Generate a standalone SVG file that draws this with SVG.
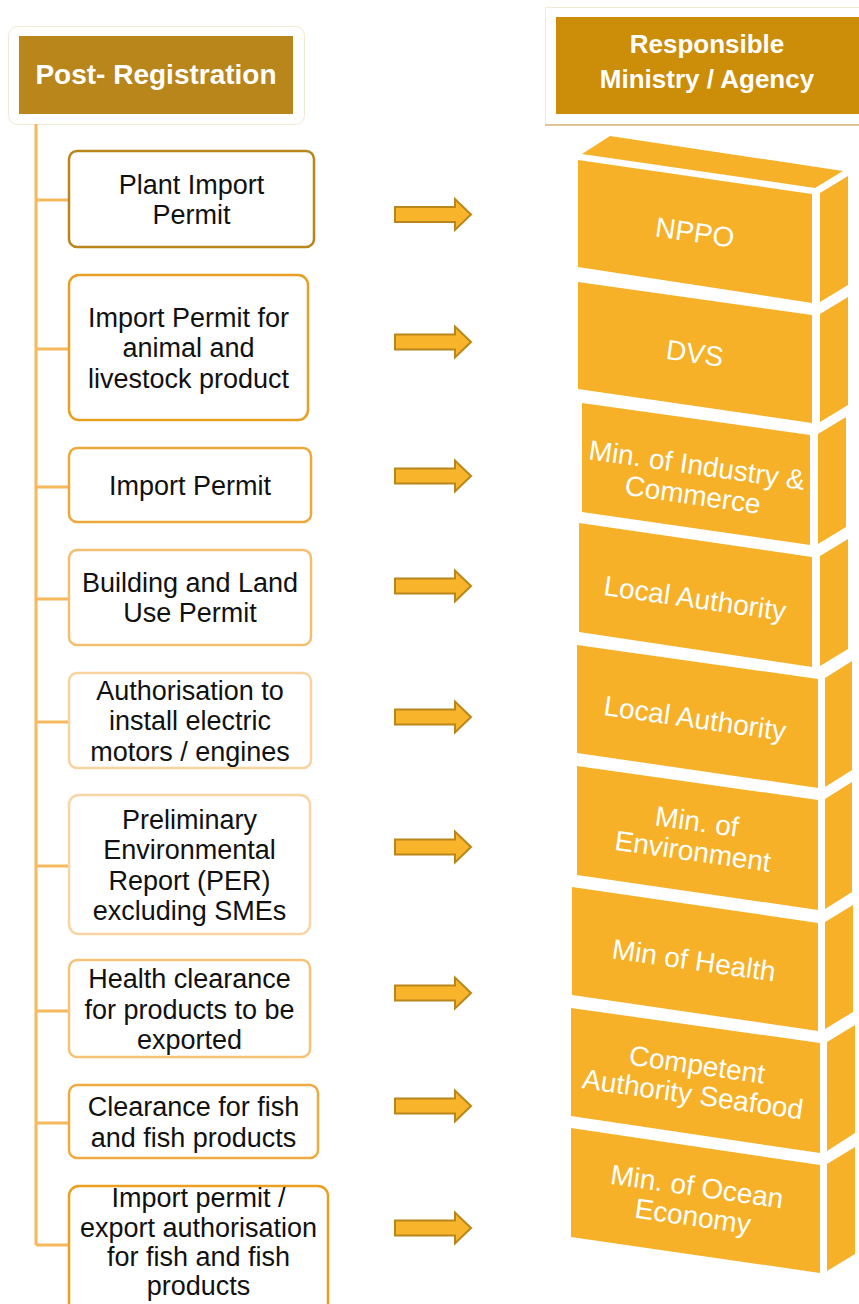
<svg xmlns="http://www.w3.org/2000/svg" width="859" height="1304" viewBox="0 0 859 1304">
<style>
.hdr{font-family:"Liberation Sans",Arial,sans-serif;font-weight:bold;fill:#ffffff;text-anchor:middle}
.bx{fill:#ffffff;stroke-width:2.5}
.bt{font-family:"Liberation Sans",Arial,sans-serif;font-size:27px;fill:#111111;text-anchor:middle}
.blk{fill:#F6B128}
.at{font-family:"Liberation Sans",Arial,sans-serif;font-size:28px;fill:#ffffff;text-anchor:middle}
.ln{stroke:#F6B85C;stroke-width:3;fill:none}
.ar{fill:#F8B42A;stroke:#B8861B;stroke-width:2}
</style>
<defs>
<path id="arrow" d="M0,-7.5 H60 V-15.5 L76,0 L60,15.5 V7.5 H0 Z"/>
</defs>
<rect width="859" height="1304" fill="#ffffff"/>

<g id="header-left">
<rect x="8.5" y="26.5" width="296" height="98" rx="9" fill="#ffffff" stroke="#F3E9D5" stroke-width="1"/>
<rect x="19" y="36" width="274" height="78" fill="#B8861B"/>
<text class="hdr" x="156" y="84" font-size="28">Post- Registration</text>
</g>

<g id="header-right">
<rect x="545.5" y="7.5" width="320" height="117" fill="#ffffff" stroke="#F3E9D5" stroke-width="1"/>
<line x1="545" y1="125" x2="859" y2="125" stroke="#D8B27A" stroke-width="1.5"/>
<rect x="556" y="17" width="303" height="97" fill="#CC8D09"/>
<text class="hdr" x="707" y="53" font-size="26">Responsible</text>
<text class="hdr" x="707" y="88" font-size="26">Ministry / Agency</text>
</g>

<g id="connectors">
<line class="ln" x1="36" y1="124" x2="36" y2="1245"/>
<line class="ln" x1="36" y1="200" x2="69" y2="200"/>
<line class="ln" x1="36" y1="349" x2="69" y2="349"/>
<line class="ln" x1="36" y1="487" x2="69" y2="487"/>
<line class="ln" x1="36" y1="599" x2="69" y2="599"/>
<line class="ln" x1="36" y1="722" x2="69" y2="722"/>
<line class="ln" x1="36" y1="866" x2="69" y2="866"/>
<line class="ln" x1="36" y1="1011" x2="69" y2="1011"/>
<line class="ln" x1="36" y1="1123" x2="69" y2="1123"/>
<line class="ln" x1="36" y1="1245" x2="69" y2="1245"/>
<use href="#arrow" class="ar" x="395" y="214.5"/>
<use href="#arrow" class="ar" x="395" y="342"/>
<use href="#arrow" class="ar" x="395" y="476"/>
<use href="#arrow" class="ar" x="395" y="586"/>
<use href="#arrow" class="ar" x="395" y="717"/>
<use href="#arrow" class="ar" x="395" y="847"/>
<use href="#arrow" class="ar" x="395" y="993"/>
<use href="#arrow" class="ar" x="395" y="1106"/>
<use href="#arrow" class="ar" x="395" y="1228"/>
</g>

<g id="box1">
<rect class="bx" x="69" y="151" width="245" height="96" rx="8" stroke="#B8861B"/>
<text class="bt" x="191.5" y="194">Plant Import</text>
<text class="bt" x="191.5" y="224">Permit</text>
</g>
<g id="box2">
<rect class="bx" x="69" y="275" width="239" height="145" rx="10" stroke="#E8A024"/>
<text class="bt" x="188.5" y="326.5">Import Permit for</text>
<text class="bt" x="188.5" y="357">animal and</text>
<text class="bt" x="188.5" y="387.5">livestock product</text>
</g>
<g id="box3">
<rect class="bx" x="69" y="448" width="242" height="74" rx="8" stroke="#EDA83A"/>
<text class="bt" x="190" y="494.5">Import Permit</text>
</g>
<g id="box4">
<rect class="bx" x="69" y="550" width="242" height="95" rx="8" stroke="#F2BE70"/>
<text class="bt" x="190" y="592">Building and Land</text>
<text class="bt" x="190" y="622">Use Permit</text>
</g>
<g id="box5">
<rect class="bx" x="69" y="673" width="242" height="95" rx="8" stroke="#F8D3A0"/>
<text class="bt" x="190" y="699.5">Authorisation to</text>
<text class="bt" x="190" y="730">install electric</text>
<text class="bt" x="190" y="760.5">motors / engines</text>
</g>
<g id="box6">
<rect class="bx" x="69" y="795" width="241" height="139" rx="10" stroke="#F9D4A5"/>
<text class="bt" x="189.5" y="828.5">Preliminary</text>
<text class="bt" x="189.5" y="859">Environmental</text>
<text class="bt" x="189.5" y="889.5">Report (PER)</text>
<text class="bt" x="189.5" y="920">excluding SMEs</text>
</g>
<g id="box7">
<rect class="bx" x="69" y="960" width="241" height="97" rx="8" stroke="#F5C27A"/>
<text class="bt" x="189.5" y="988">Health clearance</text>
<text class="bt" x="189.5" y="1018.5">for products to be</text>
<text class="bt" x="189.5" y="1049">exported</text>
</g>
<g id="box8">
<rect class="bx" x="69" y="1085" width="249" height="73" rx="8" stroke="#EFAA40"/>
<text class="bt" x="193.5" y="1116">Clearance for fish</text>
<text class="bt" x="193.5" y="1146.5">and fish products</text>
</g>
<g id="box9">
<rect class="bx" x="69" y="1186" width="259" height="130" rx="10" stroke="#E8A020"/>
<text class="bt" x="198.5" y="1207">Import permit /</text>
<text class="bt" x="198.5" y="1236.5">export authorisation</text>
<text class="bt" x="198.5" y="1266">for fish and fish</text>
<text class="bt" x="198.5" y="1295">products</text>
</g>

<g id="agency1">
<polygon class="blk" points="582,154 610,136 843,171 815,188"/>
<polygon class="blk" points="578,160 812,194 812,303 578,267"/>
<polygon class="blk" points="820,193 848,176 848,285 820,302"/>
<text class="at" x="695" y="242" transform="rotate(8.1 695 232)">NPPO</text>
</g>
<g id="agency2">
<polygon class="blk" points="578,282 812,315 812,423 578,389"/>
<polygon class="blk" points="820,314 848,297 848,405 820,422"/>
<text class="at" x="695" y="363" transform="rotate(8.1 695 353)">DVS</text>
</g>
<g id="agency3">
<polygon class="blk" points="582,403 810,435 810,545 582,512"/>
<polygon class="blk" points="818,434 846,417 846,527 818,544"/>
<text class="at" x="695" y="474.5" transform="rotate(8.1 695 479.5)">Min. of Industry &amp;</text>
<text class="at" x="695" y="504.5" transform="rotate(8.1 695 479.5)">Commerce</text>
</g>
<g id="agency4">
<polygon class="blk" points="579,523 812,557 812,667 579,632"/>
<polygon class="blk" points="820,556 848,539 848,649 820,666"/>
<text class="at" x="695" y="608" transform="rotate(8.1 695 598)">Local Authority</text>
</g>
<g id="agency5">
<polygon class="blk" points="577,645 818,679 818,788 577,753"/>
<polygon class="blk" points="825,678 852,661 852,770 825,787"/>
<text class="at" x="695" y="728" transform="rotate(8.1 695 718)">Local Authority</text>
</g>
<g id="agency6">
<polygon class="blk" points="577,766 818,800 818,910 577,875"/>
<polygon class="blk" points="825,799 852,782 852,892 825,909"/>
<text class="at" x="695" y="831" transform="rotate(8.1 695 836)">Min. of</text>
<text class="at" x="695" y="861" transform="rotate(8.1 695 836)">Environment</text>
</g>
<g id="agency7">
<polygon class="blk" points="572,887 818,923 818,1031 572,995"/>
<polygon class="blk" points="825,922 853,905 853,1012 825,1029"/>
<text class="at" x="694" y="970" transform="rotate(8.1 694 960)">Min of Health</text>
</g>
<g id="agency8">
<polygon class="blk" points="571,1008 820,1043 820,1153 571,1116"/>
<polygon class="blk" points="827,1042 855,1025 855,1133 827,1151"/>
<text class="at" x="695" y="1074" transform="rotate(8.1 695 1079)">Competent</text>
<text class="at" x="695" y="1104" transform="rotate(8.1 695 1079)">Authority Seafood</text>
</g>
<g id="agency9">
<polygon class="blk" points="571,1128 820,1165 820,1273 571,1237"/>
<polygon class="blk" points="827,1164 855,1147 855,1254 827,1271"/>
<text class="at" x="695" y="1196" transform="rotate(8.1 695 1201)">Min. of Ocean</text>
<text class="at" x="695" y="1226" transform="rotate(8.1 695 1201)">Economy</text>
</g>
</svg>
